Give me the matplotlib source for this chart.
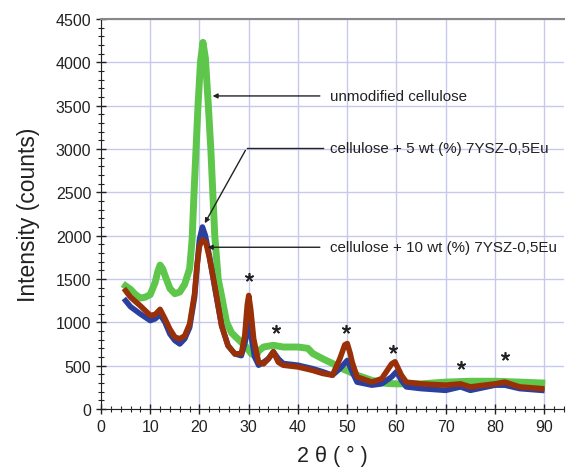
import numpy as np
import matplotlib.pyplot as plt
from matplotlib.ticker import MultipleLocator

plt.rcParams['font.family'] = ['Liberation Sans', 'DejaVu Sans']

# unmodified cellulose (green)
x_green = [5, 6, 7, 8, 9, 10, 11, 11.5, 12, 12.5, 13, 14, 15, 16, 17, 18, 18.5, 18.9, 19.3,
           19.7, 20.2, 20.7, 21.2, 21.8, 22.3, 22.7, 23.1, 23.8, 24.5, 25.5, 26.5, 27.2,
           28.5, 29.5, 30.5, 31.5, 32, 33, 35, 37, 40, 42, 43, 45, 47, 49, 50, 52, 55, 58,
           60, 65, 70, 75, 80, 85, 89.5]
y_green = [1420, 1380, 1320, 1280, 1290, 1320, 1460, 1580, 1660, 1620, 1540, 1390, 1330,
           1350, 1440, 1620, 1950, 2500, 3000, 3500, 4000, 4230, 4050, 3500, 3000, 2500,
           2000, 1500, 1300, 1000, 880, 840, 770, 715, 640, 610, 670, 715, 735, 715, 715,
           700, 640, 580, 525, 465, 440, 390, 330, 295, 290, 290, 310, 320, 320, 310, 300]

# cellulose + 5 wt (%) 7YSZ-0,5Eu (blue)
x_blue = [5, 6, 8, 10, 11, 12, 13, 14, 15, 16, 17, 18, 19, 19.5, 20, 20.6, 21.2, 22, 23.1,
          24.5, 25.8, 27.2, 28.5, 29.3, 30, 30.6, 31.2, 32, 33, 34, 35, 36, 37, 40, 43,
          45, 47, 48.5, 50, 51, 52, 55, 57, 59, 60, 61, 62, 65, 70, 73, 75, 80, 82, 85, 89.5]
y_blue = [1250, 1180, 1096, 1020, 1040, 1090, 1000, 865, 790, 750, 810, 940, 1290, 1650,
          1960, 2100, 2000, 1770, 1400, 960, 730, 635, 615, 780, 1020, 800, 600, 505, 540,
          580, 660, 580, 525, 505, 465, 430, 390, 465, 560, 430, 310, 275, 290, 370, 430,
          330, 255, 235, 215, 255, 215, 275, 275, 235, 215]

# cellulose + 10 wt (%) 7YSZ-0,5Eu (brown)
x_brown = [5, 6, 8, 10, 11, 12, 13, 14, 15, 16, 17, 18, 19, 19.5, 20, 20.6, 21.3, 22, 23.1,
           24.5, 25.8, 27.2, 28.5, 29.2, 29.7, 30, 30.4, 31, 32, 33, 34, 35, 36, 37, 40,
           43, 45, 47, 48.5, 49.5, 50, 50.6, 51, 52, 55, 57, 59, 59.7, 61, 62, 65, 70, 73,
           75, 80, 82, 85, 89.5]
y_brown = [1365, 1290, 1190, 1080, 1090, 1150, 1040, 920, 830, 810, 845, 980, 1330, 1650,
           1880, 1950, 1920, 1750, 1420, 960, 730, 635, 640, 850, 1200, 1310, 1150, 810,
           540, 520, 580, 660, 540, 505, 485, 445, 410, 390, 580, 740, 755, 640, 540, 370,
           310, 350, 520, 545, 390, 310, 290, 275, 290, 255, 290, 310, 255, 235]

star_x = [30, 35.5, 49.7, 59.2, 73, 82]
star_y = [1520, 920, 920, 690, 510, 610]

fig = plt.figure(figsize=(5.66, 4.77), dpi=100)
ax = fig.add_axes([0.1784, 0.1405, 0.818, 0.8176])

ax.plot(x_green, y_green, color='#5ec64a', lw=5, zorder=3, solid_joinstyle='round')
ax.plot(x_blue, y_blue, color='#2b3f9e', lw=4, zorder=4, solid_joinstyle='round')
ax.plot(x_brown, y_brown, color='#9a3008', lw=4, zorder=5, solid_joinstyle='round')

ax.scatter(star_x, star_y, marker=(5, 2, 0), s=30, color='#222222', lw=1.2, zorder=6)

# annotations
arrow = dict(arrowstyle='-|>', color='#222222', lw=1.0, mutation_scale=7)
ax.annotate('', xy=(22.1, 3612), xytext=(45, 3612), arrowprops=arrow, zorder=7)
ax.text(46.4, 3612, 'unmodified cellulose', fontsize=10.9, va='center', color='#222222')
ax.plot([29.6, 45], [3012, 3012], color='#222222', lw=1.0, zorder=7)
ax.annotate('', xy=(20.8, 2115), xytext=(29.6, 3012), arrowprops=arrow, zorder=7)
ax.text(46.4, 3012, 'cellulose + 5 wt (%) 7YSZ-0,5Eu', fontsize=10.9, va='center', color='#222222')
ax.annotate('', xy=(21.1, 1866), xytext=(45, 1866), arrowprops=arrow, zorder=7)
ax.text(46.4, 1866, 'cellulose + 10 wt (%) 7YSZ-0,5Eu', fontsize=10.9, va='center', color='#222222')

ax.set_xlim(0, 94)
ax.set_ylim(0, 4500)
ax.xaxis.set_major_locator(MultipleLocator(10))
ax.xaxis.set_minor_locator(MultipleLocator(2))
ax.yaxis.set_major_locator(MultipleLocator(500))
ax.yaxis.set_minor_locator(MultipleLocator(100))
ax.set_xticks(range(0, 91, 10))
ax.grid(True, which='major', color='#c8c8ec', lw=1.0)
ax.set_axisbelow(True)

ax.spines['right'].set_visible(False)
ax.spines['top'].set_color('#888888')
ax.spines['top'].set_linewidth(1.5)
ax.spines['left'].set_color('#222222')
ax.spines['bottom'].set_color('#222222')
ax.tick_params(which='major', direction='inout', length=7, width=1, labelsize=11.5, colors='#222222')
ax.tick_params(which='minor', direction='inout', length=4, width=0.8, colors='#222222')
ax.tick_params(top=False, right=False, which='both')

ax.set_xlabel('2 θ ( ° )', fontsize=15.5, color='#222222', labelpad=8)
ax.set_ylabel('Intensity (counts)', fontsize=16.5, color='#222222', labelpad=11)

plt.savefig('out.png', dpi=100)
